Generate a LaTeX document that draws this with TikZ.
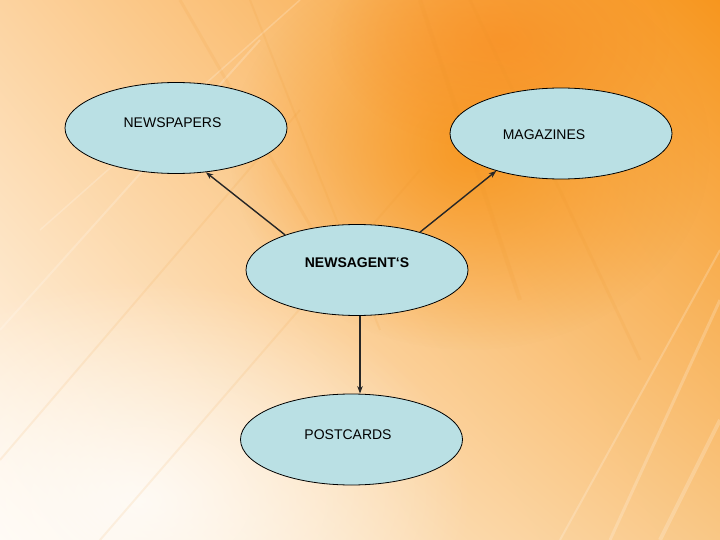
\documentclass[tikz,border=0pt]{standalone}
\usepackage{fontspec}
\setmainfont{Liberation Sans}
\usetikzlibrary{shapes.geometric,arrows.meta,shadings,fadings}
\tikzfading[name=softfade, inner color=transparent!0, outer color=transparent!100]
\definecolor{bubble}{HTML}{BAE0E4}
\definecolor{orng}{HTML}{F7961E}
\definecolor{peach}{HTML}{FCD3A0}
\definecolor{cream}{HTML}{FFF9F0}
\definecolor{lorng}{HTML}{F9C785}
\tikzset{
  bub/.style={ellipse, draw=black, line width=0.8pt, fill=bubble, minimum width=222pt, minimum height=91pt, inner sep=0pt},
  lbl/.style={font=\fontsize{14}{16}\selectfont, inner sep=0pt},
  arr/.style={line width=1.4pt, draw=black!85, -{Stealth[length=7.5pt,width=5.5pt]}},
  streak/.style={line width=#1, draw=white, opacity=0.2},
  ostreak/.style={line width=#1, draw=orng!80!brown, opacity=0.10}
}
\begin{document}
\begin{tikzpicture}[x=1pt,y=-1pt]
\useasboundingbox (0,0) rectangle (720,540);
% background
\shade[upper left=peach, upper right=orng, lower left=cream, lower right=lorng] (0,0) rectangle (720,540);
\fill[orng, path fading=softfade, opacity=0.9] (470,150) ellipse (240pt and 200pt);
\fill[orng!90!red, path fading=softfade, opacity=0.5] (500,40) ellipse (170pt and 110pt);
\fill[white, path fading=softfade, opacity=0.75] (140,500) ellipse (330pt and 220pt);
\draw[streak=3pt] (610,540) -- (720,300);
\draw[streak=2pt] (560,540) -- (720,250);
\draw[streak=2pt] (0,330) -- (260,40);
\draw[streak=1.5pt] (40,230) -- (300,0);
\draw[streak=4pt] (660,540) -- (720,420);
\draw[ostreak=3pt] (180,0) -- (330,260);
\draw[ostreak=2pt] (250,0) -- (380,330);
\draw[ostreak=4pt] (420,0) -- (520,300);
\draw[ostreak=3pt] (470,0) -- (640,360);
\draw[ostreak=2pt] (0,460) -- (300,110);
\draw[ostreak=2pt] (100,540) -- (420,170);
% nodes
\node[bub] (np) at (176,128) {};
\node[bub] (mg) at (561,133.5) {};
\node[bub] (na) at (357,270) {};
\node[bub] (pc) at (351.5,439.5) {};
\node[lbl] (tnp) at (172.5,123) {NEWSPAPERS};
\node[lbl] (tmg) at (544,135) {MAGAZINES};
\node[lbl, font=\fontsize{14}{16}\selectfont\bfseries] (tna) at (357,262.5) {NEWSAGENT‘S};
\node[lbl] (tpc) at (348,435) {POSTCARDS};
% connectors
\coordinate (s1) at (na.154);
\coordinate (e1) at (np.-56);
\coordinate (s2) at (na.31);
\coordinate (e2) at (mg.-150);
\coordinate (s3) at ([xshift=3pt]na.south);
\draw[arr] (s1) -- (e1);
\draw[arr] (s2) -- (e2);
\draw[arr] (s3) -- (s3 |- pc.north);
\end{tikzpicture}
\end{document}
